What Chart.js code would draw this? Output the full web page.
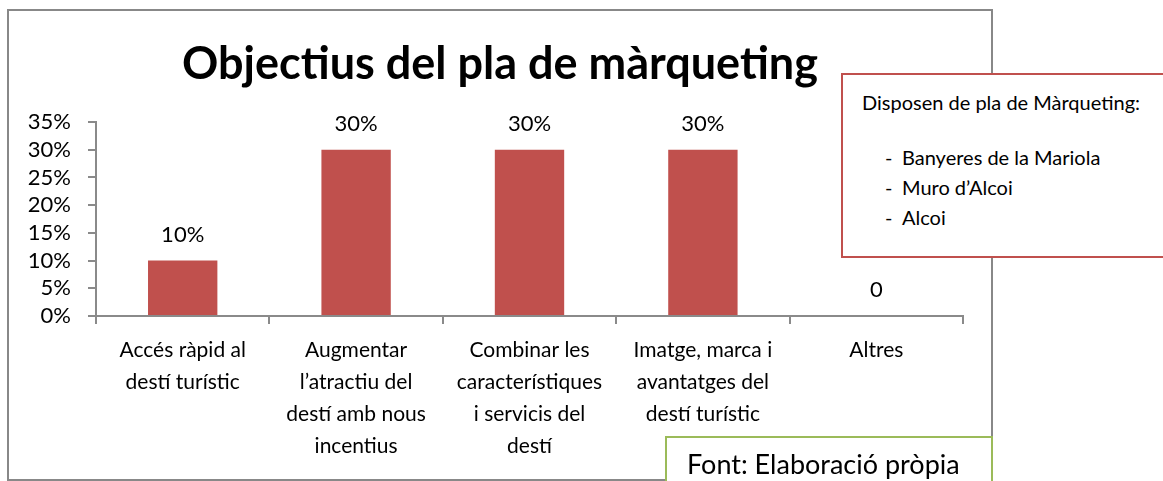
<!DOCTYPE html>
<html>
<head>
<meta charset="utf-8">
<script src="https://cdn.jsdelivr.net/npm/chart.js@4.4.1/dist/chart.umd.min.js"></script>
<style>
    body { margin: 0; background: #fff; font-family: Lato, sans-serif; color: #000; }
    #wrap { position: relative; width: 1163px; height: 481px; overflow: hidden; }
    #chart { position: absolute; left: 0; top: 0; }
    .box { position: absolute; box-sizing: border-box; background: #fff; }
    #frame { left: 7px; top: 9px; width: 986px; height: 472px; border: 2px solid #888; background: transparent; }
    #title { position: absolute; left: 8px; width: 984px; top: 35px; text-align: center; font-weight: bold; font-size: 45px; line-height: 54px; }
    #note { left: 841px; top: 73px; width: 400px; height: 185px; border: 2px solid #c0504d; }
    #note .head { position: absolute; left: 19px; top: 15px; font-size: 20px; line-height: 24px; white-space: nowrap; }
    #note ul { position: absolute; left: 0; top: 70px; margin: 0; padding: 0; list-style: none; font-size: 20px; }
    #note li { position: relative; padding-left: 59px; height: 30px; line-height: 24px; white-space: nowrap; }
    #note li::before { content: '-'; position: absolute; left: 42px; }
    #source { left: 665px; top: 436px; width: 328px; height: 100px; border: 2px solid #9bbb59; }
    #source span { position: absolute; left: 20px; top: 10px; font-size: 27px; line-height: 32px; white-space: nowrap; }
</style>
</head>
<body>
<div id="wrap">
    <canvas id="chart" width="1163" height="481"></canvas>
    <div class="box" id="frame"></div>
    <div id="title">Objectius del pla de màrqueting</div>
    <div class="box" id="note">
        <div class="head">Disposen de pla de Màrqueting:</div>
        <ul>
            <li>Banyeres de la Mariola</li>
            <li>Muro d’Alcoi</li>
            <li>Alcoi</li>
        </ul>
    </div>
    <div class="box" id="source"><span>Font: Elaboració pròpia</span></div>
</div>
<script>
// Chart data
const categories = [
    ['Accés ràpid al', 'destí turístic'],
    ['Augmentar', 'l’atractiu del', 'destí amb nous', 'incentius'],
    ['Combinar les', 'característiques', 'i servicis del', 'destí'],
    ['Imatge, marca i', 'avantatges del', 'destí turístic'],
    ['Altres']
];
const shares = [10, 30, 30, 30, 0];
const valueLabels = ['10%', '30%', '30%', '30%', '0'];
const yMax = 35;
const yStep = 5;

const axisGray = '#8a8a8a';
const barRed = '#c0504d';

// Draw value labels above the bars
const barLabels = {
    id: 'barLabels',
    afterDatasetsDraw(chart) {
        const ctx = chart.ctx;
        const meta = chart.getDatasetMeta(0);
        ctx.save();
        ctx.font = '22px Lato';
        ctx.fillStyle = '#000';
        ctx.textAlign = 'center';
        ctx.textBaseline = 'middle';
        meta.data.forEach(function(bar, i) {
            ctx.fillText(valueLabels[i], bar.x, bar.y - 26);
        });
        ctx.restore();
    }
};

function renderChart() {
    new Chart(document.getElementById('chart').getContext('2d'), {
        type: 'bar',
        data: {
            labels: categories,
            datasets: [{
                data: shares,
                backgroundColor: barRed,
                borderWidth: 0,
                categoryPercentage: 1,
                barPercentage: 0.4
            }]
        },
        options: {
            responsive: false,
            animation: false,
            devicePixelRatio: 1,
            layout: { padding: { top: 122, right: 200, left: 0, bottom: 0 } },
            plugins: {
                legend: { display: false },
                tooltip: { enabled: false }
            },
            scales: {
                x: {
                    afterFit: function(scale) { scale.height = 165; },
                    grid: { drawOnChartArea: false, tickLength: 8, color: axisGray, lineWidth: 2 },
                    border: { display: true, color: axisGray, width: 2 },
                    ticks: {
                        color: '#000',
                        padding: 10,
                        maxRotation: 0,
                        autoSkip: false,
                        font: { family: 'Lato', size: 21, lineHeight: 32 / 21 }
                    }
                },
                y: {
                    min: 0,
                    max: yMax,
                    afterFit: function(scale) { scale.width = 96; },
                    grid: { drawOnChartArea: false, tickLength: 8, color: axisGray, lineWidth: 2 },
                    border: { display: true, color: axisGray, width: 2 },
                    ticks: {
                        stepSize: yStep,
                        autoSkip: false,
                        color: '#000',
                        padding: 17,
                        font: { family: 'Lato', size: 22, lineHeight: 1 },
                        callback: function(value) { return value + '%'; }
                    }
                }
            }
        },
        plugins: [barLabels]
    });
}

document.addEventListener('DOMContentLoaded', function() {
    if (document.fonts && document.fonts.load) {
        Promise.all([document.fonts.load('22px Lato'), document.fonts.load('bold 45px Lato')])
            .then(renderChart, renderChart);
    } else {
        renderChart();
    }
});
</script>
</body>
</html>
